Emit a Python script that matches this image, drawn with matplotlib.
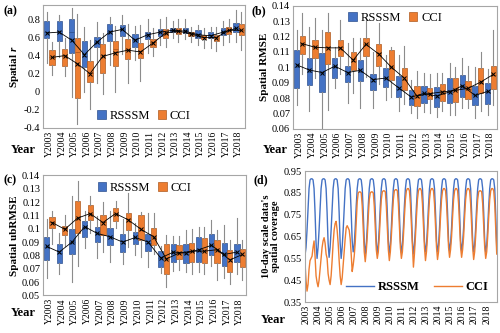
import numpy as np
import matplotlib
matplotlib.use("Agg")
import matplotlib.pyplot as plt
from matplotlib.patches import Patch
from matplotlib.lines import Line2D
from matplotlib.ticker import FuncFormatter

plt.rcParams['font.family'] = ['Liberation Serif', 'DejaVu Serif']
plt.rcParams['mathtext.fontset'] = 'custom'
plt.rcParams['mathtext.it'] = 'Liberation Serif:italic:bold'

YEARS = list(range(2003, 2019))
BOX_LABELS = ["Y%d" % y for y in YEARS]

BLUE = "#4472C4"
ORANGE = "#ED7D31"
BLUE_EDGE = "#2F528F"
ORANGE_EDGE = "#AE5A21"

# box stats per year: (whisker low, q1, median, q3, whisker high, mean)
r_rsssm = [
    (0.32, 0.59, 0.66, 0.78, 0.88, 0.65), (0.38, 0.56, 0.67, 0.78, 0.85, 0.66),
    (-0.06, 0.43, 0.66, 0.81, 0.93, 0.57), (0.00, 0.27, 0.40, 0.56, 0.72, 0.41),
    (0.10, 0.50, 0.55, 0.61, 0.77, 0.55), (0.30, 0.56, 0.67, 0.75, 0.83, 0.66),
    (0.42, 0.62, 0.69, 0.74, 0.85, 0.69), (0.35, 0.49, 0.57, 0.64, 0.73, 0.57),
    (0.43, 0.58, 0.63, 0.66, 0.80, 0.63), (0.52, 0.62, 0.66, 0.69, 0.80, 0.66),
    (0.60, 0.66, 0.68, 0.71, 0.78, 0.68), (0.58, 0.65, 0.68, 0.70, 0.80, 0.67),
    (0.52, 0.60, 0.64, 0.68, 0.74, 0.63), (0.48, 0.59, 0.63, 0.66, 0.72, 0.62),
    (0.52, 0.63, 0.66, 0.71, 0.78, 0.66), (0.55, 0.66, 0.71, 0.76, 0.90, 0.70),
]
r_cci = [
    (0.18, 0.30, 0.38, 0.46, 0.55, 0.38), (0.17, 0.28, 0.40, 0.47, 0.60, 0.40),
    (-0.36, -0.07, 0.44, 0.59, 0.86, 0.31), (-0.19, 0.11, 0.21, 0.34, 0.57, 0.20),
    (-0.03, 0.21, 0.41, 0.53, 0.65, 0.39), (0.00, 0.28, 0.47, 0.56, 0.73, 0.43),
    (0.10, 0.36, 0.47, 0.58, 0.75, 0.46), (0.12, 0.37, 0.45, 0.54, 0.74, 0.44),
    (0.40, 0.50, 0.55, 0.58, 0.70, 0.54), (0.50, 0.59, 0.65, 0.69, 0.83, 0.65),
    (0.55, 0.64, 0.67, 0.71, 0.80, 0.67), (0.55, 0.62, 0.64, 0.66, 0.72, 0.64),
    (0.48, 0.58, 0.61, 0.63, 0.70, 0.60), (0.45, 0.56, 0.60, 0.63, 0.72, 0.60),
    (0.55, 0.64, 0.68, 0.72, 0.80, 0.68), (0.46, 0.63, 0.68, 0.75, 0.88, 0.68),
]
rmse_rsssm = [
    (0.0753, 0.0867, 0.100, 0.1114, 0.124, 0.1016), (0.0714, 0.0886, 0.097, 0.106, 0.126, 0.0982),
    (0.0577, 0.084, 0.096, 0.109, 0.124, 0.0966), (0.0867, 0.093, 0.100, 0.1057, 0.113, 0.1007),
    (0.077, 0.0904, 0.096, 0.101, 0.116, 0.0966), (0.0737, 0.091, 0.097, 0.1046, 0.119, 0.098),
    (0.0737, 0.0851, 0.091, 0.0959, 0.110, 0.092), (0.079, 0.0874, 0.093, 0.0995, 0.108, 0.093),
    (0.0714, 0.0806, 0.086, 0.0943, 0.108, 0.0867), (0.070, 0.0753, 0.080, 0.085, 0.092, 0.0806),
    (0.0707, 0.0767, 0.083, 0.088, 0.096, 0.083), (0.068, 0.0744, 0.081, 0.0874, 0.096, 0.0813),
    (0.069, 0.0771, 0.084, 0.093, 0.1027, 0.084), (0.0737, 0.0806, 0.088, 0.095, 0.1057, 0.088),
    (0.0669, 0.0753, 0.082, 0.088, 0.100, 0.0817), (0.069, 0.076, 0.084, 0.0897, 0.0989, 0.0844),
]
rmse_cci = [
    (0.0954, 0.1087, 0.115, 0.1206, 0.1354, 0.1153), (0.093, 0.1057, 0.113, 0.118, 0.132, 0.113),
    (0.072, 0.1018, 0.113, 0.123, 0.135, 0.1126), (0.0954, 0.107, 0.113, 0.118, 0.131, 0.1126),
    (0.083, 0.098, 0.104, 0.110, 0.119, 0.1046), (0.094, 0.107, 0.115, 0.119, 0.132, 0.1149),
    (0.089, 0.101, 0.109, 0.115, 0.1286, 0.1086), (0.0806, 0.092, 0.100, 0.111, 0.113, 0.100),
    (0.076, 0.085, 0.092, 0.0995, 0.114, 0.093), (0.0669, 0.075, 0.081, 0.088, 0.0977, 0.0813),
    (0.070, 0.0794, 0.083, 0.0867, 0.0954, 0.0829), (0.0714, 0.078, 0.084, 0.089, 0.0966, 0.084),
    (0.069, 0.0776, 0.085, 0.093, 0.1004, 0.085), (0.0737, 0.0794, 0.086, 0.091, 0.101, 0.0863),
    (0.0714, 0.0835, 0.090, 0.0995, 0.1096, 0.0904), (0.0753, 0.0858, 0.095, 0.101, 0.124, 0.0954),
]
ubrmse_rsssm = [
    (0.0633, 0.0766, 0.086, 0.0935, 0.1073, 0.0868), (0.0664, 0.074, 0.082, 0.0889, 0.0965, 0.0825),
    (0.0602, 0.0807, 0.090, 0.0996, 0.1247, 0.090), (0.0858, 0.094, 0.101, 0.1055, 0.1131, 0.1016),
    (0.0781, 0.090, 0.096, 0.1011, 0.1093, 0.0965), (0.0748, 0.0876, 0.094, 0.1004, 0.1131, 0.094),
    (0.0735, 0.0825, 0.089, 0.096, 0.1073, 0.090), (0.080, 0.0889, 0.093, 0.0978, 0.1047, 0.0935),
    (0.071, 0.0832, 0.089, 0.096, 0.1118, 0.090), (0.0671, 0.071, 0.078, 0.0832, 0.0868, 0.0781),
    (0.0684, 0.0748, 0.082, 0.0889, 0.0945, 0.0825), (0.0679, 0.074, 0.081, 0.0884, 0.0991, 0.0817),
    (0.0679, 0.0748, 0.084, 0.0935, 0.1011, 0.0843), (0.0722, 0.080, 0.088, 0.096, 0.1068, 0.0876),
    (0.0633, 0.0722, 0.080, 0.0894, 0.1029, 0.0807), (0.0664, 0.0748, 0.082, 0.0884, 0.108, 0.0825),
]
ubrmse_cci = [
    (0.0889, 0.1004, 0.105, 0.1088, 0.113, 0.1047), (0.0868, 0.0953, 0.0995, 0.1022, 0.1106, 0.0996),
    (0.0722, 0.097, 0.108, 0.1208, 0.136, 0.108), (0.0965, 0.1067, 0.111, 0.1175, 0.1247, 0.1114),
    (0.0825, 0.0953, 0.105, 0.1106, 0.120, 0.1047), (0.1004, 0.1062, 0.111, 0.1157, 0.121, 0.1114),
    (0.0863, 0.099, 0.107, 0.1118, 0.1272, 0.1067), (0.0786, 0.0914, 0.099, 0.1106, 0.1124, 0.0996),
    (0.0807, 0.0876, 0.094, 0.1004, 0.1118, 0.094), (0.0561, 0.0658, 0.077, 0.0889, 0.0953, 0.0774),
    (0.0689, 0.0774, 0.082, 0.0876, 0.0945, 0.0817), (0.0664, 0.0748, 0.083, 0.0894, 0.0996, 0.0832),
    (0.0658, 0.074, 0.083, 0.0927, 0.1011, 0.0832), (0.0613, 0.074, 0.084, 0.0914, 0.0991, 0.0843),
    (0.0582, 0.0679, 0.076, 0.0843, 0.0919, 0.0766), (0.0613, 0.0715, 0.080, 0.085, 0.0914, 0.0807),
]

# monthly readings of the 10-day spatial coverage, one row per year
cov_rsssm = [
    [0.565, 0.60, 0.68, 0.78, 0.87, 0.91, 0.915, 0.915, 0.91, 0.87, 0.76, 0.62],
    [0.55, 0.60, 0.68, 0.78, 0.87, 0.91, 0.915, 0.915, 0.91, 0.87, 0.76, 0.62],
    [0.555, 0.60, 0.68, 0.78, 0.87, 0.91, 0.915, 0.915, 0.91, 0.87, 0.76, 0.62],
    [0.55, 0.60, 0.68, 0.78, 0.87, 0.91, 0.915, 0.915, 0.91, 0.87, 0.76, 0.63],
    [0.58, 0.61, 0.69, 0.79, 0.87, 0.91, 0.915, 0.915, 0.91, 0.87, 0.76, 0.63],
    [0.57, 0.61, 0.69, 0.79, 0.87, 0.91, 0.915, 0.915, 0.91, 0.87, 0.76, 0.63],
    [0.57, 0.61, 0.69, 0.79, 0.87, 0.91, 0.915, 0.915, 0.91, 0.87, 0.76, 0.63],
    [0.575, 0.61, 0.69, 0.79, 0.87, 0.91, 0.915, 0.915, 0.91, 0.87, 0.76, 0.63],
    [0.575, 0.61, 0.69, 0.79, 0.87, 0.91, 0.915, 0.915, 0.91, 0.87, 0.76, 0.63],
    [0.57, 0.61, 0.69, 0.79, 0.87, 0.91, 0.915, 0.915, 0.91, 0.87, 0.76, 0.63],
    [0.58, 0.61, 0.69, 0.79, 0.87, 0.91, 0.915, 0.915, 0.91, 0.87, 0.76, 0.63],
    [0.58, 0.61, 0.69, 0.79, 0.87, 0.91, 0.915, 0.915, 0.91, 0.87, 0.76, 0.63],
    [0.585, 0.62, 0.69, 0.79, 0.87, 0.91, 0.915, 0.915, 0.91, 0.87, 0.76, 0.63],
    [0.585, 0.62, 0.69, 0.79, 0.87, 0.91, 0.915, 0.915, 0.91, 0.87, 0.76, 0.63],
    [0.58, 0.61, 0.69, 0.79, 0.87, 0.91, 0.915, 0.915, 0.91, 0.87, 0.76, 0.63],
    [0.58, 0.61, 0.69, 0.79, 0.87, 0.91, 0.915, 0.915, 0.91, 0.87, 0.75, 0.60],
]
cov_cci = [
    [0.53, 0.45, 0.40, 0.43, 0.50, 0.54, 0.55, 0.56, 0.60, 0.63, 0.56, 0.47],
    [0.44, 0.42, 0.45, 0.50, 0.55, 0.60, 0.63, 0.645, 0.62, 0.57, 0.55, 0.48],
    [0.45, 0.43, 0.47, 0.54, 0.62, 0.68, 0.71, 0.72, 0.68, 0.62, 0.54, 0.47],
    [0.43, 0.46, 0.52, 0.58, 0.64, 0.69, 0.70, 0.69, 0.68, 0.64, 0.57, 0.49],
    [0.52, 0.56, 0.62, 0.72, 0.81, 0.85, 0.855, 0.855, 0.85, 0.79, 0.68, 0.58],
    [0.535, 0.58, 0.65, 0.74, 0.82, 0.85, 0.855, 0.855, 0.85, 0.79, 0.69, 0.59],
    [0.55, 0.58, 0.65, 0.74, 0.82, 0.855, 0.86, 0.86, 0.855, 0.79, 0.69, 0.59],
    [0.54, 0.58, 0.65, 0.74, 0.82, 0.86, 0.865, 0.865, 0.86, 0.80, 0.70, 0.60],
    [0.55, 0.58, 0.65, 0.74, 0.82, 0.86, 0.87, 0.87, 0.86, 0.80, 0.70, 0.60],
    [0.51, 0.57, 0.65, 0.74, 0.82, 0.86, 0.87, 0.87, 0.86, 0.80, 0.70, 0.60],
    [0.54, 0.58, 0.65, 0.74, 0.82, 0.86, 0.87, 0.87, 0.86, 0.80, 0.70, 0.60],
    [0.545, 0.58, 0.65, 0.74, 0.82, 0.86, 0.87, 0.87, 0.86, 0.80, 0.70, 0.60],
    [0.555, 0.59, 0.65, 0.74, 0.82, 0.86, 0.87, 0.87, 0.86, 0.80, 0.70, 0.60],
    [0.555, 0.59, 0.65, 0.74, 0.82, 0.86, 0.87, 0.87, 0.86, 0.80, 0.70, 0.60],
    [0.545, 0.58, 0.65, 0.74, 0.82, 0.855, 0.86, 0.86, 0.855, 0.80, 0.70, 0.60],
    [0.55, 0.58, 0.65, 0.74, 0.82, 0.86, 0.87, 0.87, 0.86, 0.80, 0.69, 0.57],
]


def fmt(v, pos):
    return "%g" % round(v, 3)


def style_axes(ax):
    for s in ax.spines.values():
        s.set_color("#a6a6a6")
        s.set_linewidth(0.8)
    ax.tick_params(length=0, labelsize=7.5, pad=2)
    ax.tick_params(axis="x", labelsize=7, pad=2)
    ax.yaxis.set_major_formatter(FuncFormatter(fmt))


def to_stats(rows):
    out = []
    for lo, q1, med, q3, hi, mean in rows:
        out.append(dict(whislo=lo, q1=q1, med=med, q3=q3, whishi=hi, mean=mean, fliers=[]))
    return out


def box_panel(ax, a_rows, b_rows, ylim, step, ylabel, legend_loc):
    pos = np.arange(len(YEARS))
    for rows, off, fill, edge in [(a_rows, -0.22, BLUE, BLUE_EDGE), (b_rows, 0.22, ORANGE, ORANGE_EDGE)]:
        ax.bxp(to_stats(rows), positions=pos + off, widths=0.42, patch_artist=True,
               showmeans=True, showcaps=False, showfliers=False,
               boxprops=dict(facecolor=fill, edgecolor=edge, linewidth=0.5),
               medianprops=dict(color=edge, linewidth=0.6),
               whiskerprops=dict(color="#8c8c8c", linewidth=0.8),
               meanprops=dict(marker="x", markeredgecolor="black", markersize=3.5, markeredgewidth=0.7))
        means = [r[5] for r in rows]
        ax.plot(pos + off, means, color="black", lw=0.6, zorder=4)
    ax.set_xlim(-0.5, len(YEARS) - 0.5)
    ax.set_ylim(*ylim)
    ax.set_yticks(np.arange(ylim[0], ylim[1] + 1e-9, step))
    ax.set_xticks(pos)
    ax.set_xticklabels(BOX_LABELS, rotation=90)
    ax.set_ylabel(ylabel, fontsize=8, fontweight="bold", labelpad=2)
    style_axes(ax)
    handles = [Patch(facecolor=BLUE, edgecolor=BLUE_EDGE, lw=0.5),
               Patch(facecolor=ORANGE, edgecolor=ORANGE_EDGE, lw=0.5)]
    ax.legend(handles, ["RSSSM", "CCI"], loc=legend_loc, ncol=2, frameon=False,
              fontsize=9, handlelength=0.7, handleheight=0.7, handletextpad=0.3,
              columnspacing=0.6, borderaxespad=0.1)


fig = plt.figure(figsize=(5, 3.33), dpi=100)

ax_a = fig.add_axes([0.086, 0.616, 0.404, 0.369])
box_panel(ax_a, r_rsssm, r_cci, (-0.4, 0.8), 0.2, r"Spatial $\mathit{r}$", "lower center")
ax_a.set_ylim(-0.4, 0.96)

ax_b = fig.add_axes([0.586, 0.613, 0.408, 0.37])
box_panel(ax_b, rmse_rsssm, rmse_cci, (0.06, 0.14), 0.01, "Spatial RMSE", "upper center")

ax_c = fig.add_axes([0.086, 0.113, 0.406, 0.36])
box_panel(ax_c, ubrmse_rsssm, ubrmse_cci, (0.05, 0.14), 0.01, "Spatial ubRMSE", "upper center")

ax_d = fig.add_axes([0.61, 0.093, 0.384, 0.393])
t = np.array([y + (m + 0.5) / 12.0 for y in YEARS for m in range(12)])
ax_d.plot(t, np.ravel(cov_rsssm), color=BLUE, lw=1.0, label="RSSSM")
ax_d.plot(t, np.ravel(cov_cci), color=ORANGE, lw=1.0, label="CCI")
ax_d.set_xlim(2003.04, 2018.98)
ax_d.set_ylim(0.35, 0.95)
ax_d.set_yticks(np.arange(0.35, 0.951, 0.1))
ax_d.set_xticks([y + 0.12 for y in YEARS])
ax_d.set_xticklabels([str(y) for y in YEARS], rotation=90)
ax_d.set_ylabel("10-day scale data's\nspatial coverage", fontsize=7.5, fontweight="bold",
                labelpad=3, linespacing=1.0)
style_axes(ax_d)
ax_d.legend(loc="lower right", ncol=2, frameon=False, prop=dict(size=9, weight="bold"),
            handlelength=2.2, handletextpad=0.3, columnspacing=1.2, borderaxespad=0.3)

for x, y, s in [(0.006, 0.965, "(a)"), (0.504, 0.965, "(b)"), (0.006, 0.46, "(c)"), (0.506, 0.46, "(d)")]:
    fig.text(x, y, s, fontsize=8.5, fontweight="bold", va="center")
for x, y in [(0.046, 0.55), (0.55, 0.55), (0.046, 0.06), (0.546, 0.04)]:
    fig.text(x, y, "Year", fontsize=9, fontweight="bold", va="center", ha="center")

fig.savefig("out.png", dpi=100)
